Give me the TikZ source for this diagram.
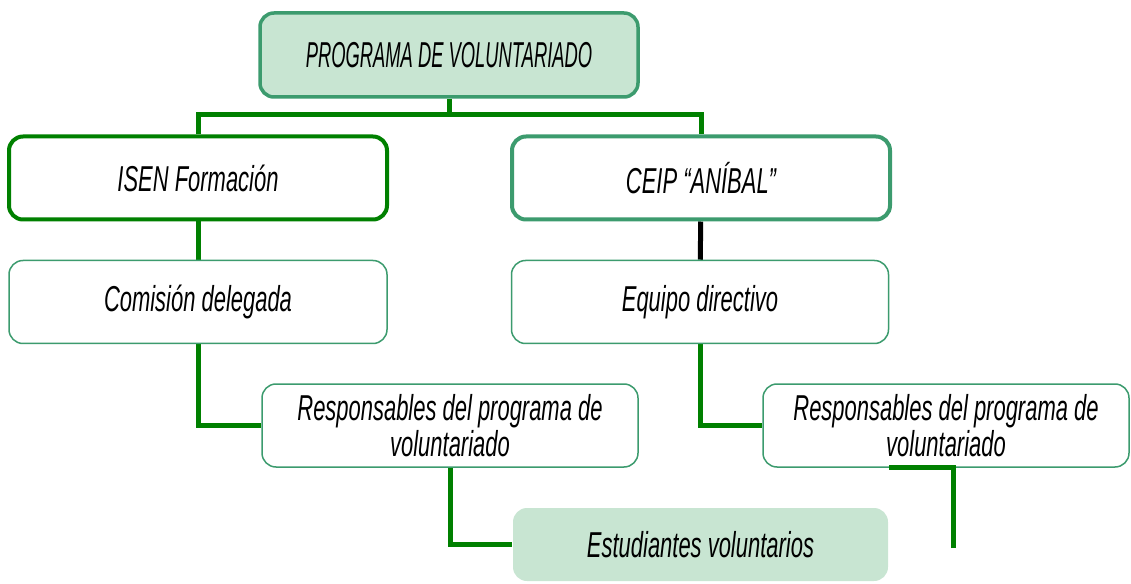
\documentclass[tikz,border=0pt]{standalone}
\usepackage{fontspec}
\setmainfont{Liberation Sans}[FakeStretch=0.61]
\newfontfamily\progfont{Liberation Sans}[FakeStretch=0.51]
\usepackage{tikz}
\pgfdeclarelayer{background}
\pgfdeclarelayer{foreground}
\pgfsetlayers{background,main,foreground}
\definecolor{marco}{RGB}{60,155,110}
\definecolor{verde}{RGB}{0,128,0}
\definecolor{trama}{RGB}{200,229,210}
\newcommand{\px}{0.75pt}

\begin{document}
\begin{tikzpicture}[x=0.75pt,y=-0.75pt,
  caja/.style={draw=marco,line width=1.5*\px,rounded corners=14*\px,fill=white,
    minimum width=378*\px,minimum height=83*\px,inner sep=0pt,align=center,
    font=\fontsize{27}{27}\selectfont\itshape},
  fuerte/.style={caja,line width=4*\px},
  tramada/.style={caja,fill=trama,draw=none},
  linea/.style={draw=verde,line width=5*\px}]
\useasboundingbox (0,0) rectangle (1131,584);
\begin{pgfonlayer}{foreground}
\coordinate (suelto) at (953,548);
\end{pgfonlayer}
\node[caja,fill=trama,line width=3.5*\px,minimum height=84*\px,
  font=\progfont\fontsize{27}{27}\selectfont\itshape] (programa) at (449,55) {PROGRAMA DE VOLUNTARIADO};
\node[fuerte,draw=verde] (isen) at (198,178) {ISEN Formación};
\node[fuerte] (ceip) at (701,178) {CEIP “ANÍBAL”};
\node[caja] (comision) at (198,302) {Comisión delegada};
\node[caja,minimum width=377*\px] (equipo) at (700,302) {Equipo directivo};
\node[caja,minimum width=376*\px] (respisen) at (450,425.5) {Responsables del programa de\\voluntariado};
\node[caja,minimum width=366*\px] (respceip) at (946,425.5) {Responsables del programa de\\voluntariado};
\node[tramada,minimum width=375*\px,minimum height=73*\px] (estudiantes) at (700.5,544.5) {Estudiantes voluntarios};
\begin{pgfonlayer}{background}
\coordinate (reparto) at (449,115);
\draw[linea] (programa.south) -- (reparto);
\draw[linea] (isen.north) |- (reparto) -| (ceip.north);
\draw[linea] (isen) -- (comision);
\draw[line width=5*\px] (ceip) -- (equipo);
\draw[linea] (comision.south) |- (respisen.west);
\draw[linea] (equipo.south) |- (respceip.west);
\draw[linea] (respisen.south) |- (estudiantes.west);
\end{pgfonlayer}
\begin{pgfonlayer}{foreground}
\draw[linea] (suelto) |- (respceip.south -| estudiantes.east);
\end{pgfonlayer}
\end{tikzpicture}
\end{document}
